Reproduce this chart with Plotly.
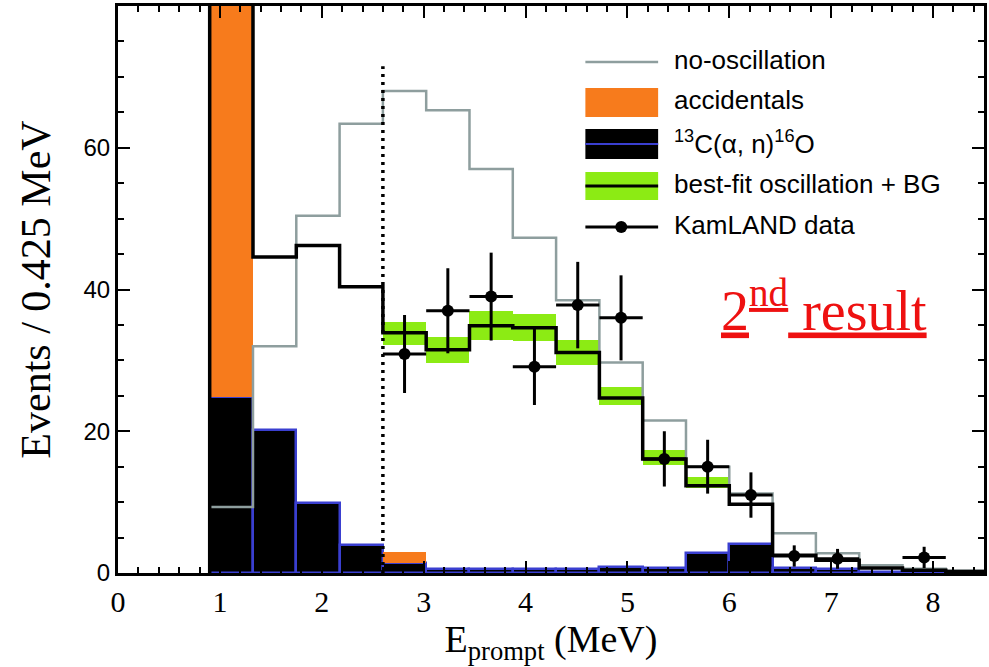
import plotly.graph_objects as go

# ---------------- data ----------------
bin_left = [0.9, 1.325, 1.75, 2.175, 2.6, 3.025, 3.45, 3.875, 4.3, 4.725,
            5.15, 5.575, 6.0, 6.425, 6.85, 7.275, 7.7, 8.125]
BIN_W = 0.425
no_osc = [9.3, 32.0, 50.4, 63.4, 68.0, 65.3, 57.0, 47.3, 38.5, 29.7,
          21.5, 15.0, 11.2, 5.6, 2.8, 1.1, 0.6, 0.3]
best_fit = [115.0, 44.6, 46.2, 40.4, 33.9, 31.5, 34.9, 34.6, 31.1, 24.7,
            16.1, 12.3, 9.7, 2.5, 1.8, 0.7, 0.4, 0.2]
c13 = [24.9, 20.2, 9.9, 4.0, 1.4, 0.5, 0.5, 0.5, 0.6, 0.8,
       0.7, 2.8, 4.1, 0.7, 0.6, 0.2, 0.1, 0.1]
acc_left = [0.9, 2.6]
acc_base = [24.9, 1.4]
accidentals = [95.0, 1.6]
band_left = [2.6, 3.025, 3.45, 3.875, 4.3, 4.725, 5.15, 5.575]
band_lo = [32.2, 29.7, 32.9, 32.7, 29.4, 23.7, 15.3, 12.0]
band_hi = [35.4, 33.3, 36.9, 36.6, 32.9, 26.3, 17.4, 13.6]
data_x = [2.8125, 3.2375, 3.6625, 4.0875, 4.5125, 4.9375, 5.3625, 5.7875,
          6.2125, 6.6375, 7.0625, 7.9125]
data_y = [30.9, 37.0, 39.0, 29.1, 37.8, 36.0, 16.1, 15.0, 11.0, 2.4, 2.0, 2.2]
data_err = [5.5, 6.0, 6.2, 5.4, 6.1, 6.0, 3.9, 3.8, 3.2, 1.5, 1.4, 1.5]
threshold = 2.6
threshold_top = 71.5
x_ticks = [0, 1, 2, 3, 4, 5, 6, 7, 8]
y_ticks = [0, 20, 40, 60]

ORANGE = "#F77B1C"
GREEN = "#8CEB14"
GRAY = "#8E9E9E"
BLUE = "#3A3FD0"

def step_xy(vals):
    xs = [bin_left[0]] + bin_left + [bin_left[-1] + BIN_W]
    ys = [0] + list(vals) + [vals[-1]]
    return xs, ys

fig = go.Figure()

# 13C(a,n)16O background
fig.add_trace(go.Bar(x=bin_left, y=c13, width=BIN_W, offset=0,
                     marker=dict(color="black", line=dict(color=BLUE, width=2.5)),
                     showlegend=False))
# accidentals stacked on top
fig.add_trace(go.Bar(x=acc_left, y=accidentals, base=acc_base, width=BIN_W, offset=0,
                     marker=dict(color=ORANGE, line=dict(width=0)),
                     showlegend=False))
# green uncertainty band
fig.add_trace(go.Bar(x=band_left, y=[h - l for h, l in zip(band_hi, band_lo)],
                     base=band_lo, width=BIN_W, offset=0,
                     marker=dict(color=GREEN, line=dict(width=0)),
                     showlegend=False))
# no-oscillation
xs, ys = step_xy(no_osc)
fig.add_trace(go.Scatter(x=xs, y=ys, mode="lines", line_shape="hv",
                         line=dict(color=GRAY, width=2.5), showlegend=False))
# best-fit
xs, ys = step_xy(best_fit)
fig.add_trace(go.Scatter(x=xs, y=ys, mode="lines", line_shape="hv",
                         line=dict(color="black", width=3.5), showlegend=False))
# data
fig.add_trace(go.Scatter(x=data_x, y=data_y, mode="markers",
                         marker=dict(color="black", size=12),
                         error_y=dict(type="data", array=data_err, color="black",
                                      thickness=3, width=0),
                         error_x=dict(type="constant", value=BIN_W / 2, color="black",
                                      thickness=3, width=0),
                         showlegend=False))

# threshold line
fig.add_shape(type="line", x0=threshold, x1=threshold, y0=0, y1=threshold_top,
              xref="x", yref="y", line=dict(color="black", width=3.5, dash="3px,5px"))

# ---------------- manual legend ----------------
PX0, PX1, PY0, PY1 = 118, 987, 573, 6
def fx(p):
    return (p - PX0) / (PX1 - PX0)
def fy(p):
    return (PY0 - p) / (PY0 - PY1)

sx0, sx1 = 587, 660
shapes = []
shapes.append(dict(type="line", xref="paper", yref="paper", x0=fx(sx0), x1=fx(sx1),
                   y0=fy(62), y1=fy(62), line=dict(color=GRAY, width=2.5)))
shapes.append(dict(type="rect", xref="paper", yref="paper", x0=fx(sx0), x1=fx(sx1),
                   y0=fy(117), y1=fy(88), fillcolor=ORANGE, line=dict(width=0)))
shapes.append(dict(type="rect", xref="paper", yref="paper", x0=fx(sx0), x1=fx(sx1),
                   y0=fy(159), y1=fy(129), fillcolor="black", line=dict(width=0)))
shapes.append(dict(type="line", xref="paper", yref="paper", x0=fx(sx0), x1=fx(sx1),
                   y0=fy(144), y1=fy(144), line=dict(color=BLUE, width=2)))
shapes.append(dict(type="rect", xref="paper", yref="paper", x0=fx(sx0), x1=fx(sx1),
                   y0=fy(200), y1=fy(172), fillcolor=GREEN, line=dict(width=0)))
shapes.append(dict(type="line", xref="paper", yref="paper", x0=fx(sx0), x1=fx(sx1),
                   y0=fy(186), y1=fy(186), line=dict(color="black", width=3)))
shapes.append(dict(type="line", xref="paper", yref="paper", x0=fx(sx0), x1=fx(sx1),
                   y0=fy(227), y1=fy(227), line=dict(color="black", width=3)))
shapes.append(dict(type="circle", xref="paper", yref="paper",
                   x0=fx(617), x1=fx(629), y0=fy(233), y1=fy(221),
                   fillcolor="black", line=dict(width=0)))
for s in shapes:
    fig.add_shape(**s)

legend_labels = ["no-oscillation", "accidentals",
                 "<sup>13</sup>C(α, n)<sup>16</sup>O",
                 "best-fit oscillation + BG", "KamLAND data"]
legend_rows = [60, 100, 142, 184, 225]
for lab, row in zip(legend_labels, legend_rows):
    fig.add_annotation(text=lab, xref="paper", yref="paper", x=fx(674), y=fy(row),
                       xanchor="left", yanchor="middle", showarrow=False,
                       font=dict(family="Liberation Sans, Arial", size=26, color="black"))

# "2nd result"
fig.add_annotation(text="<u>2<sup>nd</sup> result</u>", xref="paper", yref="paper",
                   x=fx(826), y=fy(306), xanchor="center", yanchor="middle",
                   showarrow=False,
                   font=dict(family="Liberation Serif, Times New Roman", size=56,
                             color="#EE1111"))

fig.update_layout(
    width=989, height=667,
    margin=dict(l=118, r=2, t=6, b=94),
    plot_bgcolor="white", paper_bgcolor="white",
    barmode="overlay", bargap=0,
    showlegend=False,
    xaxis=dict(range=[0, 8.5], tickvals=x_ticks, ticks="inside", ticklen=12,
               tickwidth=2, tickcolor="black", showline=True, linewidth=3,
               linecolor="black", mirror="ticks", showgrid=False, zeroline=False,
               minor=dict(dtick=0.2, ticks="inside", ticklen=6, tickwidth=1.5,
                          tickcolor="black", showgrid=False),
               tickfont=dict(family="Liberation Serif, Times New Roman", size=30,
                             color="black"),
               title=dict(text="E<sub>prompt</sub> (MeV)",
                          font=dict(family="Liberation Serif, Times New Roman",
                                    size=38, color="black"), standoff=6)),
    yaxis=dict(range=[0, 80], tickvals=y_ticks, ticks="inside", ticklen=12,
               tickwidth=2, tickcolor="black", showline=True, linewidth=3,
               linecolor="black", mirror="ticks", showgrid=False, zeroline=False,
               minor=dict(dtick=5, ticks="inside", ticklen=6, tickwidth=1.5,
                          tickcolor="black", showgrid=False),
               tickfont=dict(family="Liberation Sans, Arial", size=24, color="black"),
               title=dict(text="Events / 0.425 MeV",
                          font=dict(family="Liberation Serif, Times New Roman",
                                    size=42, color="black"), standoff=20)),
)

fig.write_html("out.html")
